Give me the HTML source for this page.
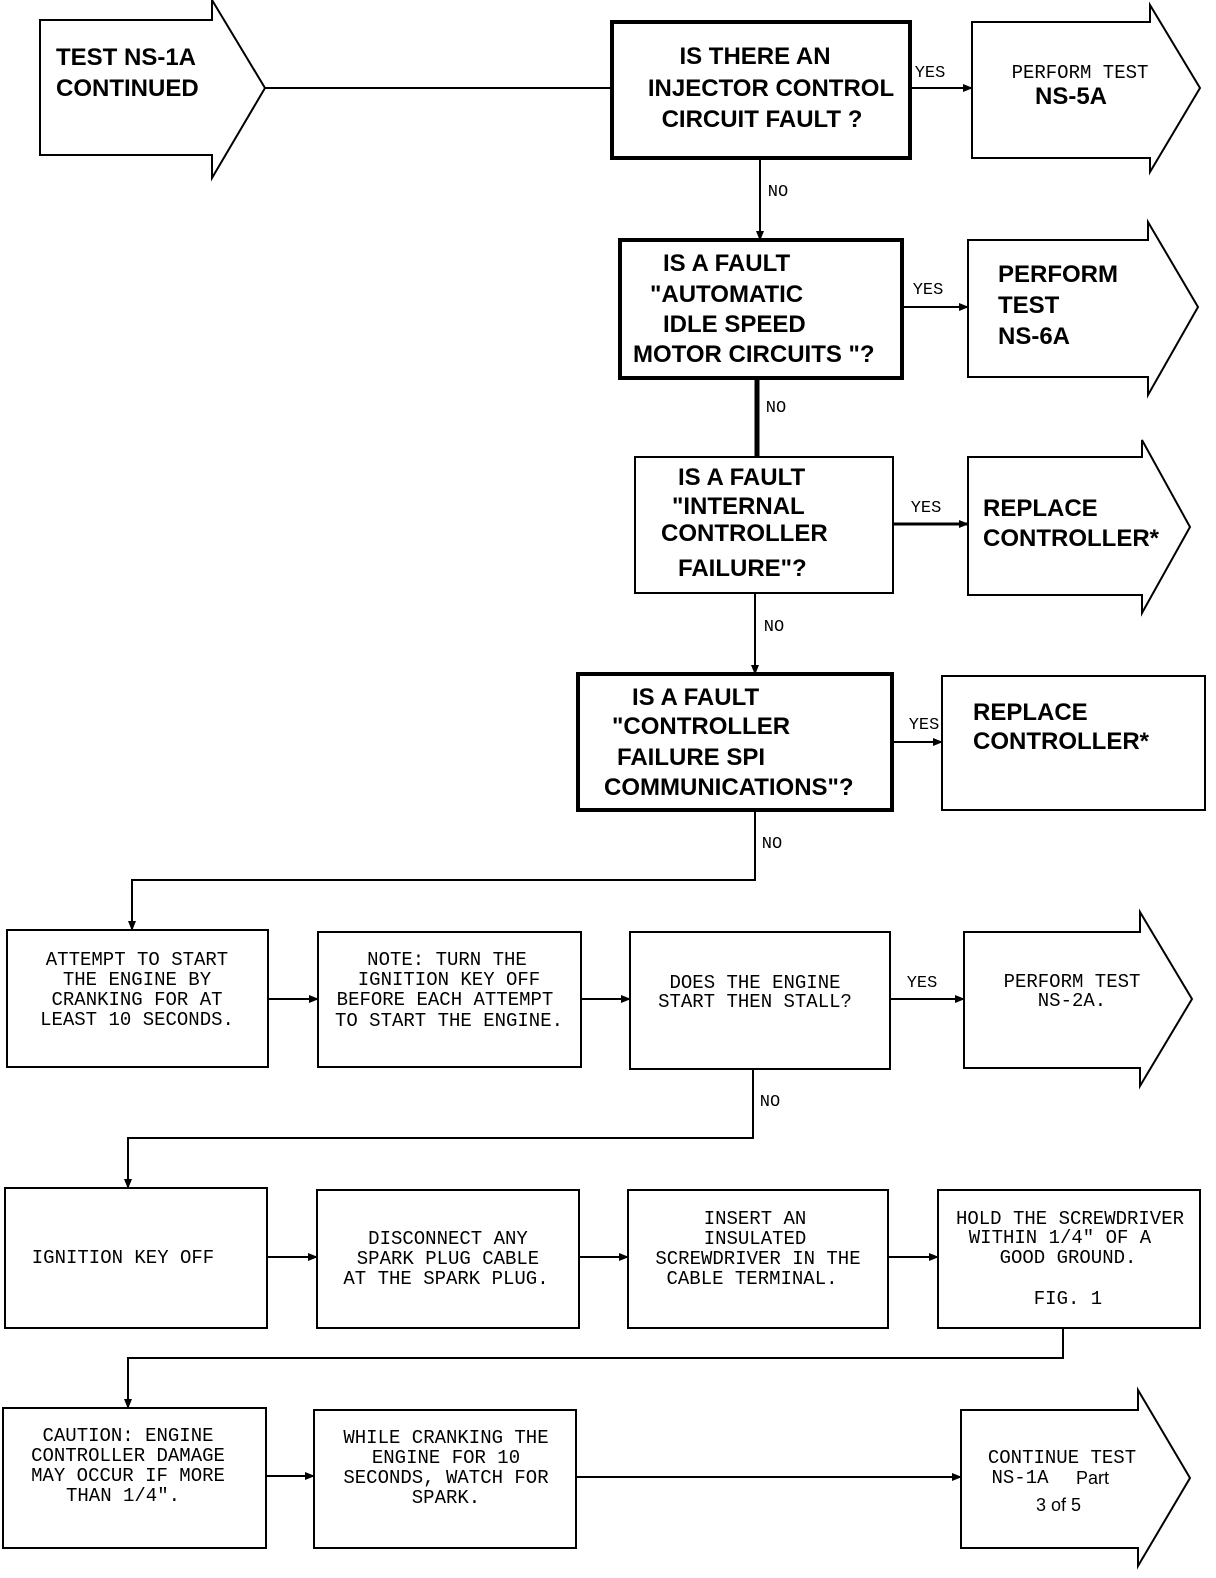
<!DOCTYPE html>
<html><head><meta charset="utf-8"><style>
html,body{margin:0;padding:0;background:#fff}
svg{display:block}
.b{font-family:"Liberation Sans",sans-serif;font-weight:bold;font-size:24px;fill:#000}
.m{font-family:"Liberation Mono",monospace;font-size:19px;fill:#000;text-anchor:middle}
.s{font-family:"Liberation Sans",sans-serif;font-size:18px;fill:#000}
</style></head><body>
<svg width="1216" height="1578" viewBox="0 0 1216 1578" xmlns="http://www.w3.org/2000/svg">
<defs><marker id="a" markerWidth="10" markerHeight="8" refX="9" refY="4" orient="auto" markerUnits="userSpaceOnUse"><path d="M0,0 L10,4 L0,8 z" fill="#000"/></marker></defs>
<g fill="none" stroke="#000" stroke-width="2">
<!-- arrows shapes -->
<path d="M40,20 H212 V0 L265,88 L212,178 V155 H40 Z"/>
<path d="M972,22 H1150 V5 L1200,88 L1150,172 V158 H972 Z"/>
<path d="M968,240 H1148 V222 L1198,307 L1148,395 V377 H968 Z"/>
<path d="M968,457 H1142 V440 L1190,527 L1142,613 V595 H968 Z"/>
<path d="M964,932 H1140 V912 L1192,999 L1140,1086 V1068 H964 Z"/>
<path d="M961,1410 H1138 V1390 L1190,1478 L1138,1566 V1548 H961 Z"/>
<!-- boxes -->
<rect x="612" y="22" width="298" height="136" stroke-width="4"/>
<rect x="620" y="240" width="282" height="138" stroke-width="4"/>
<rect x="635" y="457" width="258" height="136"/>
<rect x="578" y="674" width="314" height="136" stroke-width="4"/>
<rect x="942" y="676" width="263" height="134"/>
<rect x="7" y="930" width="261" height="137"/>
<rect x="318" y="932" width="263" height="135"/>
<rect x="630" y="932" width="260" height="137"/>
<rect x="5" y="1188" width="262" height="140"/>
<rect x="317" y="1190" width="262" height="138"/>
<rect x="628" y="1190" width="260" height="138"/>
<rect x="938" y="1190" width="262" height="138"/>
<rect x="3" y="1408" width="263" height="140"/>
<rect x="314" y="1410" width="262" height="138"/>
<!-- connectors -->
<line x1="265" y1="88" x2="612" y2="88"/>
<line x1="910" y1="88" x2="972" y2="88" marker-end="url(#a)"/>
<line x1="760" y1="158" x2="760" y2="240" marker-end="url(#a)"/>
<line x1="902" y1="307" x2="968" y2="307" marker-end="url(#a)"/>
<line x1="757" y1="378" x2="757" y2="457" stroke-width="5"/>
<line x1="893" y1="524" x2="968" y2="524" stroke-width="3" marker-end="url(#a)"/>
<line x1="755" y1="593" x2="755" y2="674" marker-end="url(#a)"/>
<line x1="892" y1="742" x2="942" y2="742" marker-end="url(#a)"/>
<path d="M755,810 V880 H132 V930" marker-end="url(#a)"/>
<line x1="268" y1="999" x2="318" y2="999" marker-end="url(#a)"/>
<line x1="581" y1="999" x2="630" y2="999" marker-end="url(#a)"/>
<line x1="890" y1="999" x2="964" y2="999" marker-end="url(#a)"/>
<path d="M753,1069 V1138 H128 V1188" marker-end="url(#a)"/>
<line x1="267" y1="1257" x2="317" y2="1257" marker-end="url(#a)"/>
<line x1="579" y1="1257" x2="628" y2="1257" marker-end="url(#a)"/>
<line x1="888" y1="1257" x2="938" y2="1257" marker-end="url(#a)"/>
<path d="M1063,1328 V1358 H128 V1408" marker-end="url(#a)"/>
<line x1="266" y1="1476" x2="314" y2="1476" marker-end="url(#a)"/>
<line x1="576" y1="1477" x2="961" y2="1477" marker-end="url(#a)"/>
</g>
<!-- bold texts -->
<text class="b" x="56" y="65">TEST NS-1A</text>
<text class="b" x="56" y="96">CONTINUED</text>
<g class="b" text-anchor="middle">
<text x="755" y="64">IS THERE AN</text>
<text x="771" y="96">INJECTOR CONTROL</text>
<text x="762" y="127">CIRCUIT FAULT ?</text>
</g>
<text class="b" x="1035" y="104">NS-5A</text>
<text class="b" x="663" y="271">IS A FAULT</text>
<text class="b" x="650" y="302">"AUTOMATIC</text>
<text class="b" x="663" y="332">IDLE SPEED</text>
<text class="b" x="633" y="362">MOTOR CIRCUITS "?</text>
<text class="b" x="998" y="282">PERFORM</text>
<text class="b" x="998" y="313">TEST</text>
<text class="b" x="998" y="344">NS-6A</text>
<text class="b" x="678" y="485">IS A FAULT</text>
<text class="b" x="672" y="514">"INTERNAL</text>
<text class="b" x="661" y="541">CONTROLLER</text>
<text class="b" x="678" y="576">FAILURE"?</text>
<text class="b" x="983" y="516">REPLACE</text>
<text class="b" x="983" y="546">CONTROLLER*</text>
<text class="b" x="632" y="705">IS A FAULT</text>
<text class="b" x="612" y="734">"CONTROLLER</text>
<text class="b" x="617" y="765">FAILURE SPI</text>
<text class="b" x="604" y="795">COMMUNICATIONS"?</text>
<text class="b" x="973" y="720">REPLACE</text>
<text class="b" x="973" y="749">CONTROLLER*</text>
<!-- labels -->
<g class="m" style="font-size:17px">
<text x="930" y="77">YES</text>
<text x="778" y="196">NO</text>
<text x="928" y="294">YES</text>
<text x="776" y="412">NO</text>
<text x="926" y="512">YES</text>
<text x="774" y="631">NO</text>
<text x="924" y="729">YES</text>
<text x="772" y="848">NO</text>
<text x="922" y="987">YES</text>
<text x="770" y="1106">NO</text>
</g>
<g class="m">
<text x="1080" y="78">PERFORM TEST</text>
<text x="137" y="965">ATTEMPT TO START</text>
<text x="137" y="985">THE ENGINE BY</text>
<text x="137" y="1005">CRANKING FOR AT</text>
<text x="137" y="1025">LEAST 10 SECONDS.</text>
<text x="447" y="965">NOTE: TURN THE</text>
<text x="449" y="985">IGNITION KEY OFF</text>
<text x="445" y="1005">BEFORE EACH ATTEMPT</text>
<text x="449" y="1026">TO START THE ENGINE.</text>
<text x="755" y="988">DOES THE ENGINE</text>
<text x="755" y="1007">START THEN STALL?</text>
<text x="1072" y="987">PERFORM TEST</text>
<text x="1072" y="1006">NS-2A.</text>
<text x="123" y="1263">IGNITION KEY OFF</text>
<text x="448" y="1244">DISCONNECT ANY</text>
<text x="448" y="1264">SPARK PLUG CABLE</text>
<text x="446" y="1284">AT THE SPARK PLUG.</text>
<text x="755" y="1224">INSERT AN</text>
<text x="755" y="1244">INSULATED</text>
<text x="758" y="1264">SCREWDRIVER IN THE</text>
<text x="752" y="1284">CABLE TERMINAL.</text>
<text x="1070" y="1224">HOLD THE SCREWDRIVER</text>
<text x="1060" y="1243">WITHIN 1/4" OF A</text>
<text x="1068" y="1263">GOOD GROUND.</text>
<text x="1068" y="1304">FIG. 1</text>
<text x="128" y="1441">CAUTION: ENGINE</text>
<text x="128" y="1461">CONTROLLER DAMAGE</text>
<text x="128" y="1481">MAY OCCUR IF MORE</text>
<text x="123" y="1501">THAN 1/4".</text>
<text x="446" y="1443">WHILE CRANKING THE</text>
<text x="446" y="1463">ENGINE FOR 10</text>
<text x="446" y="1483">SECONDS, WATCH FOR</text>
<text x="446" y="1503">SPARK.</text>
<text x="1062" y="1463">CONTINUE TEST</text>
</g>
<text class="m" x="1020" y="1483" style="text-anchor:middle">NS-1A</text>
<text class="s" x="1076" y="1484">Part</text>
<text class="s" x="1036" y="1511">3 of 5</text>
</svg>
</body></html>
